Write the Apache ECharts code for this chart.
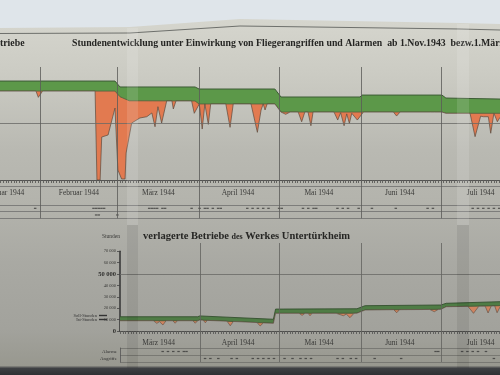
<!DOCTYPE html>
<html><head><meta charset="utf-8">
<script src="https://cdn.jsdelivr.net/npm/echarts@6/dist/echarts.min.js"></script>
<style>html,body{margin:0;padding:0;background:#c8c8c0}#c{width:500px;height:375px}</style>
</head><body><div id="c"></div>
<script>
// ---------- data (x = day of year 1944, 0 = 1 Jan; y = Stunden) ----------
const monthNames = ['Januar 1944','Februar 1944','März 1944','April 1944','Mai 1944','Juni 1944','Juli 1944'];
const monthMid = [18, 45.5, 75.5, 105.5, 136, 166.5, 197];
const monthStarts = [31, 60, 91, 121, 152, 182];
const bottomMonthNames = ['März 1944','April 1944','Mai 1944','Juni 1944','Juli 1944'];
const bottomMonthMid = [75.5, 105.5, 136, 166.5, 197];
const bottomMonthStarts = [91, 121, 152, 182];
const rowNames = ['Alarme','Angriffe'];

// Gesamtwerk: upper edge of green band, lower edge (Soll) and actual hours (Ist)
const topUpper = [[15.7,86800],[59.1,86800],[61.0,81600],[89.3,81600],[90.8,79800],[119.4,79800],[121.7,72800],[151.5,72800],[152.3,74500],[182.4,74500],[183.9,71900],[204.3,71000]];
const topNominal = [[15.7,78000],[59.1,78000],[61.0,73000],[64.5,69500],[89.3,69300],[90.8,66700],[119.4,66700],[121.7,59600],[182.4,59600],[183.9,58500],[204.3,58500]];
const topActual = [
 [15.7,78000],[29.3,78000],[30.2,72500],[31.8,78000],
 [51.6,78000],[52.3,0],[53.5,0],[54.1,37700],[56.5,39500],[57.2,41200],[59.1,63100],[60.2,8800],[61.6,900],[62.9,900],[63.3,23700],[65.4,50000],[68.5,54400],[71.1,55500],[73.0,58800],[74.2,46700],[75.3,64300],[76.7,50000],[78.6,69300],
 [80.6,69300],[81.1,62300],[82.1,69300],
 [88.0,69300],[89.0,58500],[90.9,66700],
 [91.2,66700],[92.0,44700],[93.0,66700],
 [93.4,66700],[94.3,48800],[95.2,66700],
 [100.9,66700],[102.5,46200],[103.7,66700],
 [110.4,66700],[112.8,41800],[114.2,61400],[115.0,66700],[115.7,61400],[116.5,66700],
 [119.4,66700],[121.7,59600],
 [122.0,59600],[123.5,57600],[125.1,59600],
 [128.2,59600],[129.5,51100],[130.7,59600],
 [131.9,59600],[133.0,47600],[133.8,59600],
 [141.7,59600],[143.1,52600],[144.2,59000],[145.5,47600],[146.5,58000],[147.5,49700],[148.4,58500],[150.5,52600],[152.8,59600],
 [164.1,59600],[165.3,56100],[166.6,59600],
 [178.0,59600],[178.6,57900],[179.5,59600],
 [182.4,59600],[183.9,58500],
 [193.0,58500],[194.9,38000],[197.0,56000],[198.0,55500],[199.9,55500],[200.8,41000],[202.0,58500],[203.3,51100],[204.3,55000]
];
const topAlarme = [29,51,52,53,54,55,72,73,74,75,77,78,88,91,93,94,96,98,99,109,111,113,115,117,121,122,130,132,134,135,143,145,147,151,156,165,177,179,194,196,198,200,202,204];
const topAngriffe = [52,53,60];

// verlagerte Betriebe des Werkes Untertürkheim
const botUpper = [[60.9,12500],[90.2,12500],[91.0,13200],[118.8,10300],[119.6,19200],[150.3,19500],[153.4,22200],[182.0,22800],[184.0,24300],[204.3,25700]];
const botNominal = [[60.9,9000],[90.2,9000],[91.0,9600],[118.8,6750],[119.6,15500],[150.3,15600],[153.4,18400],[182.0,19000],[184.0,21300],[204.3,22200]];
const botActual = [
 [60.9,9000],[61.6,7600],[62.5,9000],
 [73.5,9000],[74.8,6700],[75.8,8200],[77.1,5300],[78.3,9000],
 [80.8,9000],[81.7,6800],[82.6,9000],
 [88.4,9000],[89.3,6800],[90.2,9000],
 [91.0,9600],[92.3,9500],[93.1,7200],[93.8,9300],
 [101.3,8600],[102.5,4600],[103.7,8350],
 [112.6,7400],[113.8,4400],[115.0,7100],
 [118.8,6750],[119.6,15500],
 [128.5,15500],[129.6,13700],[130.7,15500],
 [131.9,15500],[132.6,13400],[133.4,15500],
 [142.5,15500],[145.2,13400],[146.3,14800],[147.7,11700],[149.2,15500],[150.3,15600],[153.4,18400],
 [164.2,18700],[165.3,16000],[166.4,18700],
 [177.8,18900],[179.5,16900],[181.0,18950],[182.0,19000],[184.0,21300],
 [192.2,21600],[194.3,15500],[196.3,21700],
 [198.7,21800],[199.8,15800],[201.0,21900],
 [202.3,22000],[203.2,16000],[204.3,21000]
];
const botAlarme = [77,79,81,83,85,86,180,181,190,192,194,196,199];
const botAngriffe = [93,95,98,103,105,111,113,115,117,119,123,126,129,131,133,143,145,148,150,157,167,202];

// ---------- chart ----------
const X0 = 15.74, X1 = 204.3, XB = 60.9;
const dayTicks = (a, b) => { const r = []; for (let d = Math.ceil(a); d <= Math.floor(b); d++) r.push(d); return r; };
const FONT = 'Liberation Serif';
const INK = '#262624';
const GREEN = '#5c9849', GREEN_B = '#4f7c45', ORANGE = '#e27a50', ORANGE_B = '#cf8460';
const bgStops = [
 {offset:0, color:'#d9d9d1'}, {offset:0.2, color:'#cbcbc3'}, {offset:0.4, color:'#b9b9b2'},
 {offset:0.55, color:'#b3b3ac'}, {offset:0.7, color:'#a9a9a3'}, {offset:0.88, color:'#a2a29c'},
 {offset:0.975, color:'#98988f'}, {offset:0.982, color:'#3e4043'}, {offset:1, color:'#2f3033'}
];
const bgGrad = () => new echarts.graphic.LinearGradient(0, 0, 0, 375, bgStops, true);

function xAxis(grid, min, extra) {
  return Object.assign({type:'value', gridIndex:grid, min:min, max:X1, axisLine:{show:false}, axisTick:{show:false}, axisLabel:{show:false}, splitLine:{show:false}}, extra || {});
}
function band(data, x, y, fill, line, lw, z) {
  return {type:'line', xAxisIndex:x, yAxisIndex:y, data:data, symbol:'none', z:z,
    lineStyle:{color:line, width:lw}, areaStyle:{color:fill, opacity:1}, silent:true};
}
function marks(days, row, x, y) {
  return {type:'scatter', xAxisIndex:x, yAxisIndex:y, data:days.map(d => [d, row]), symbol:'rect', symbolSize:[2.5,1.2], itemStyle:{color:'#3a3a38'}, silent:true};
}
function vlines(values, x, y, color) {
  return {type:'line', xAxisIndex:x, yAxisIndex:y, data:[], z:6,
    markLine:{silent:true, symbol:['none','none'], label:{show:false}, animation:false,
      lineStyle:{color:color, width:0.8, type:'solid'}, data:values.map(v => ({xAxis:v}))}};
}
function hline(value, x, y) {
  return {type:'line', xAxisIndex:x, yAxisIndex:y, data:[], z:6,
    markLine:{silent:true, symbol:['none','none'], label:{show:false}, animation:false,
      lineStyle:{color:'#6a6a66', width:0.8, type:'solid'}, data:[{yAxis:value}]}};
}
const G = o => Object.assign({outerBoundsMode:'none', containLabel:false}, o);

const option = {
  animation:false,
  backgroundColor:'transparent',
  title:[
    {text:'Stundenentwicklung unter Einwirkung von Fliegerangriffen und Alarmen  ab 1.Nov.1943  bezw.1.März', left:72, top:38.5, padding:0,
      textStyle:{fontFamily:FONT, fontSize:9.8, fontWeight:'bold', color:INK}},
    {text:'triebe', left:0, top:38.5, padding:0, textStyle:{fontFamily:FONT, fontSize:9.8, fontWeight:'bold', color:INK}},
    {text:'verlagerte Betriebe {s|des} Werkes Untertürkheim', left:143, top:231, padding:0,
      textStyle:{fontFamily:FONT, fontSize:10.5, fontWeight:'bold', color:INK,
        rich:{s:{fontFamily:FONT, fontSize:8, fontWeight:'bold', color:INK}}}}
  ],
  grid:[
    G({left:0, right:0, top:60.3, bottom:195}),          // 0 top plot
    G({left:0, right:0, top:205, height:13.3}),          // 1 top alarm rows
    G({left:0, right:0, top:67, bottom:156.7}),          // 2 top frame
    G({left:120, right:0, top:251.2, bottom:44}),        // 3 bottom plot
    G({left:120, right:0, top:348, height:14}),          // 4 bottom rows
    G({left:120, right:0, top:243, bottom:13})           // 5 bottom frame
  ],
  xAxis:[
    xAxis(0, X0, {axisLine:{show:true, lineStyle:{color:'#333', width:1.5}},
      axisTick:{show:true, customValues:dayTicks(X0, X1), length:3, lineStyle:{color:'#5a5a58', width:0.9}},
      axisLabel:{show:true, customValues:monthMid, margin:9, fontFamily:FONT, fontSize:7.5, color:'#3a3a38',
        formatter:v => monthNames[monthMid.indexOf(v)] || ''}}),
    xAxis(1, X0, {position:'bottom', offset:-31.6, axisLine:{show:true, lineStyle:{color:'#666', width:0.7}}}),
    xAxis(2, X0),
    xAxis(3, XB, {axisLine:{show:true, lineStyle:{color:'#333', width:1.5}},
      axisTick:{show:true, customValues:dayTicks(XB, X1), length:3, lineStyle:{color:'#5a5a58', width:0.9}},
      axisLabel:{show:true, customValues:bottomMonthMid, margin:8, fontFamily:FONT, fontSize:7.5, color:'#3a3a38',
        formatter:v => bottomMonthNames[bottomMonthMid.indexOf(v)] || ''}}),
    xAxis(4, XB),
    xAxis(5, XB)
  ],
  yAxis:[
    {type:'value', gridIndex:0, min:0, max:105000, show:false},
    {type:'category', gridIndex:1, data:rowNames, inverse:true, axisLine:{show:false}, axisTick:{show:false}, axisLabel:{show:false},
      splitLine:{show:true, interval:0, lineStyle:{color:'#666', width:0.7}}},
    {type:'value', gridIndex:2, min:0, max:1, show:false},
    {type:'value', gridIndex:3, min:0, max:70000, interval:10000, name:'Stunden', nameLocation:'end', nameGap:12,
      nameTextStyle:{fontFamily:FONT, fontSize:5.5, color:'#3a3a38', align:'right'},
      axisLine:{show:true, lineStyle:{color:'#333', width:1.5}},
      axisTick:{show:true, length:3, lineStyle:{color:'#444', width:0.8}},
      splitLine:{show:false},
      axisLabel:{fontFamily:FONT, fontSize:4.5, color:'#3a3a38', margin:4,
        formatter:v => v === 50000 ? '{b|50 000}' : (v === 0 ? '{b|0}' : (v / 1000) + ' 000'),
        rich:{b:{fontFamily:FONT, fontSize:6.5, fontWeight:'bold', color:'#2e2e2c'}}}},
    {type:'category', gridIndex:4, data:rowNames, inverse:true,
      axisLine:{show:true, lineStyle:{color:'#555', width:0.8}}, axisTick:{show:false},
      axisLabel:{interval:0, fontFamily:FONT, fontSize:5, color:'#333', margin:3},
      splitLine:{show:true, interval:0, lineStyle:{color:'#6a6a66', width:0.7}}},
    {type:'value', gridIndex:5, min:0, max:1, show:false}
  ],
  series:[
    band(topUpper, 0, 0, GREEN, '#3d5c35', 1, 2),
    band(topNominal, 0, 0, ORANGE, '#51603f', 0.8, 3),
    band(topActual, 0, 0, bgGrad(), '#5d4a3e', 0.7, 4),
    hline(50000, 0, 0),
    marks(topAlarme, 'Alarme', 1, 1),
    marks(topAngriffe, 'Angriffe', 1, 1),
    vlines(monthStarts, 2, 2, '#5a5a58'),
    band(botUpper, 3, 3, GREEN_B, '#34502f', 0.9, 2),
    band(botNominal, 3, 3, ORANGE_B, '#3e5436', 0.8, 3),
    band(botActual, 3, 3, bgGrad(), '#5d4a3e', 0.6, 4),
    hline(50000, 3, 3),
    marks(botAlarme, 'Alarme', 4, 4),
    marks(botAngriffe, 'Angriffe', 4, 4),
    vlines(bottomMonthStarts, 5, 5, '#62625e')
  ],
  graphic:[
    {type:'rect', z:-10, silent:true, shape:{x:0, y:0, width:500, height:375}, style:{fill:bgGrad()}},
    {type:'polygon', z:-9, silent:true, shape:{points:[[0,0],[500,0],[500,24],[460,23],[240,19],[130,27],[0,28]]}, style:{fill:'#dfe5ea'}},
    {type:'polyline', z:-8, silent:true, shape:{points:[[0,33.5],[130,33],[240,26],[460,29],[500,30]]}, style:{stroke:'#6e706c', lineWidth:1, fill:null}},
    {type:'rect', z:50, silent:true, shape:{x:127, y:28, width:11, height:197}, style:{fill:'rgba(255,255,255,0.12)'}},
    {type:'rect', z:50, silent:true, shape:{x:127, y:225, width:11, height:143}, style:{fill:'rgba(0,0,0,0.07)'}},
    {type:'rect', z:50, silent:true, shape:{x:457, y:24, width:12, height:201}, style:{fill:'rgba(255,255,255,0.12)'}},
    {type:'rect', z:50, silent:true, shape:{x:457, y:225, width:12, height:143}, style:{fill:'rgba(0,0,0,0.07)'}},
    {type:'text', z:20, silent:true, style:{x:97, y:315.5, text:'Soll-Stunden', fontFamily:FONT, fontSize:4.5, fill:'#333', align:'right', verticalAlign:'middle'}},
    {type:'text', z:20, silent:true, style:{x:97, y:319.5, text:'Ist-Stunden', fontFamily:FONT, fontSize:4.5, fill:'#333', align:'right', verticalAlign:'middle'}},
    {type:'rect', z:20, silent:true, shape:{x:99, y:314.8, width:8, height:1.4}, style:{fill:'#333'}},
    {type:'rect', z:20, silent:true, shape:{x:99, y:318.8, width:8, height:1.4}, style:{fill:'#333'}}
  ]
};
const chart = echarts.init(document.getElementById('c'), null, {renderer:'canvas'});
chart.setOption(option);
</script>
</body></html>
